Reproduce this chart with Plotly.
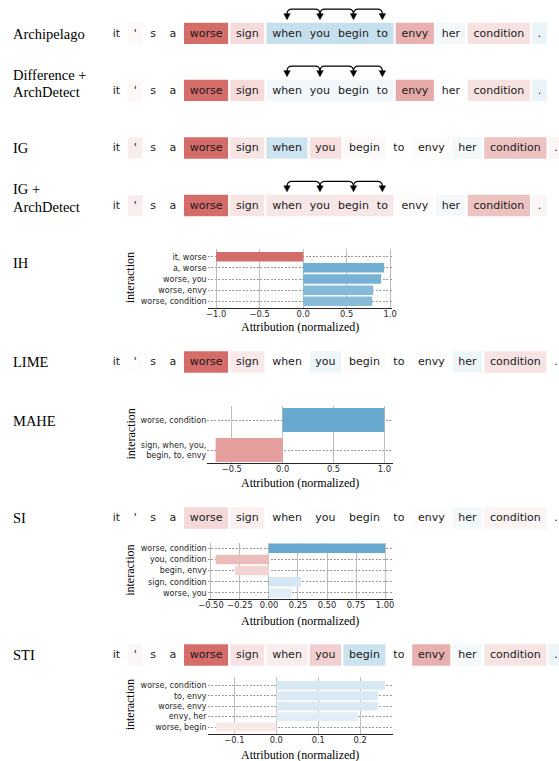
import plotly.graph_objects as go

W, H = 559, 761

# ---------------- data ----------------
TOKENS = ["it", "'", "s", "a", "worse", "sign", "when", "you", "begin", "to",
          "envy", "her", "condition", "."]
GROUP = [6, 7, 8, 9]  # "when you begin to" joined as one interaction

# per-token attribution (normalized: negative -> red, positive -> blue)
archipelago = [0, -0.05, 0, 0, -1.0, -0.24, 0.375, 0.375, 0.375, 0.375, -0.53, 0.08, -0.2, 0.14]
diff_archdetect = [0, -0.05, 0, 0, -1.0, -0.24, 0.09, 0.09, 0.09, 0.09, -0.58, 0.0, -0.2, 0.14]
ig = [0, -0.12, 0, 0, -1.0, -0.18, 0.33, -0.22, -0.05, 0.0, -0.03, 0.08, -0.41, -0.07]
ig_archdetect = [0, -0.12, 0, 0, -1.0, -0.18, -0.16, -0.16, -0.16, -0.16, -0.03, 0.08, -0.41, -0.07]
lime = [0, -0.02, 0, 0, -1.0, -0.15, 0.0, 0.11, -0.03, 0.0, 0.0, 0.12, -0.19, 0.0]
si_tokens = [0, 0, 0, 0, -0.26, -0.1, 0.0, 0.02, 0.0, 0.0, -0.02, 0.07, -0.08, 0.0]
sti_tokens = [0, -0.07, 0, 0, -1.0, -0.19, -0.13, -0.32, 0.34, 0.0, -0.53, 0.07, -0.18, 0.12]

# interaction attributions
ih_labels = ["it, worse", "a, worse", "worse, you", "worse, envy", "worse, condition"]
ih_values = [-1.0, 0.931, 0.897, 0.805, 0.794]
mahe_labels = ["worse, condition", "sign, when, you,<br>begin, to, envy"]
mahe_values = [1.0, -0.659]
si_labels = ["worse, condition", "you, condition", "begin, envy", "sign, condition", "worse, you"]
si_values = [1.0, -0.46, -0.293, 0.276, 0.2]
sti_labels = ["worse, condition", "to, envy", "worse, envy", "envy, her", "worse, begin"]
sti_values = [0.259, 0.242, 0.242, 0.194, -0.1435]

ih_ticks = [-1.0, -0.5, 0.0, 0.5, 1.0]
mahe_ticks = [-0.5, 0.0, 0.5, 1.0]
si_ticks = [-0.5, -0.25, 0.0, 0.25, 0.5, 0.75, 1.0]
sti_ticks = [-0.1, 0.0, 0.1, 0.2]

# ---------------- styling ----------------
SCALE = [[0.0, "rgb(212,108,106)"], [0.5, "rgb(255,255,255)"], [1.0, "rgb(103,169,207)"]]
SERIF = "Liberation Serif"
SANS = "DejaVu Sans"
INK = "#262626"

# DejaVu Sans advance widths (1/1000 em)
ADV = {"a": 613, "b": 635, "c": 550, "d": 635, "e": 615, "g": 635, "h": 634, "i": 278,
       "n": 634, "o": 612, "r": 411, "s": 521, "t": 392, "u": 634, "v": 592, "w": 818,
       "y": 592, "'": 275, ".": 318}
FS = 11
PAD, GAP, WORD_GAP = 5.7, 2.1, 8.0
X_START = 107.1
ROW_H = 21.3


def text_w(s):
    return sum(ADV[c] for c in s) / 1000 * FS


def layout_row(grouped):
    cells, centers = [], [0.0] * len(TOKENS)
    x, i = X_START, 0
    while i < len(TOKENS):
        if grouped and i == GROUP[0]:
            tx = x + PAD
            for j in GROUP:
                w = text_w(TOKENS[j])
                centers[j] = tx + w / 2
                tx += w + WORD_GAP
            x1 = tx - WORD_GAP + PAD
            cells.append((x, x1, i))
            x = x1 + GAP
            i = GROUP[-1] + 1
        else:
            w = text_w(TOKENS[i])
            cells.append((x, x + w + 2 * PAD, i))
            centers[i] = x + PAD + w / 2
            x += w + 2 * PAD + GAP
            i += 1
    return cells, centers


rows = [
    (archipelago, True, 33.3),
    (diff_archdetect, True, 90.3),
    (ig, False, 148.0),
    (ig_archdetect, True, 205.5),
    (lime, False, 362.0),
    (si_tokens, False, 518.0),
    (sti_tokens, False, 655.0),
]

fig = go.Figure()
shapes = []
annotations = []

for vals, grouped, yc in rows:
    cells, centers = layout_row(grouped)
    fig.add_trace(go.Bar(
        x=[(a + b) / 2 for a, b, _ in cells],
        y=[ROW_H] * len(cells),
        base=[yc - ROW_H / 2] * len(cells),
        width=[b - a for a, b, _ in cells],
        marker=dict(color=[vals[k] for _, _, k in cells], colorscale=SCALE,
                    cmin=-1, cmax=1, line=dict(width=0)),
        xaxis="x", yaxis="y", hoverinfo="skip", showlegend=False))
    fig.add_trace(go.Scatter(
        x=centers, y=[yc + 0.5] * len(TOKENS), mode="text", text=TOKENS,
        textposition="middle center",
        textfont=dict(family=SANS, size=FS, color="#1a1a1a"),
        xaxis="x", yaxis="y", hoverinfo="skip", showlegend=False))
    if grouped:
        top = yc - ROW_H / 2
        arc_y, tip, r, head = top - 13.5, top - 3.0, 5.0, 6.0
        gx = [centers[j] for j in GROUP]
        for xa, xb in zip(gx[:-1], gx[1:]):
            shapes.append(dict(
                type="path", xref="x", yref="y",
                path=(f"M{xa},{tip - head} L{xa},{arc_y + r} Q{xa},{arc_y} {xa + r},{arc_y} "
                      f"L{xb - r},{arc_y} Q{xb},{arc_y} {xb},{arc_y + r} L{xb},{tip - head}"),
                line=dict(color="black", width=1.2)))
        for xg in gx:
            shapes.append(dict(
                type="path", xref="x", yref="y",
                path=f"M{xg - 3.2},{tip - head} L{xg + 3.2},{tip - head} L{xg},{tip} Z",
                fillcolor="black", line=dict(color="black", width=0.5)))

# method names
for text, y in [("Archipelago", 34), ("Difference +", 75), ("ArchDetect", 92), ("IG", 148),
                ("IG +", 189), ("ArchDetect", 207), ("IH", 263), ("LIME", 362),
                ("MAHE", 421), ("SI", 518), ("STI", 655)]:
    annotations.append(dict(x=11, y=y, xref="x", yref="y", text=text, showarrow=False,
                            xanchor="left", yanchor="middle",
                            font=dict(family=SERIF, size=14.5, color="black")))

# interaction bar charts: (labels, values, ticks, xrange, px box, yrange, title y)
charts = [
    (ih_labels, ih_values, ih_ticks, [-1.097, 1.025], (207.7, 392.3, 249, 307.7), [4.57, -0.69], 326.5),
    (mahe_labels, mahe_values, mahe_ticks, [-0.741, 1.082], (207.3, 392.7, 406, 463), [1.43, -0.47], 482.5),
    (si_labels, si_values, si_ticks, [-0.528, 1.066], (207.7, 392.7, 542.7, 599), [4.54, -0.5], 620.5),
    (sti_labels, sti_values, sti_ticks, [-0.164, 0.278], (207.5, 392.9, 677, 733.7), [4.64, -0.8], 754.5),
]

layout_axes = {}
for n, (labels, values, ticks, xr, box, yr, title_y) in enumerate(charts, start=2):
    x0, x1, y0, y1 = box
    fig.add_trace(go.Bar(
        x=values, y=list(range(len(values))), orientation="h",
        width=0.8 if len(values) < 3 else 0.85,
        marker=dict(color=values, colorscale=SCALE, cmin=-1, cmax=1, line=dict(width=0)),
        xaxis=f"x{n}", yaxis=f"y{n}", hoverinfo="skip", showlegend=False))
    layout_axes[f"xaxis{n}"] = dict(
        domain=[x0 / W, x1 / W], anchor=f"y{n}", range=xr, tickvals=ticks,
        tickformat=".2f" if n == 4 else ".1f",
        showgrid=True, gridcolor="#bdbdbd", gridwidth=1.2, zeroline=False,
        showline=True, linecolor=INK, linewidth=1.2, ticks="", automargin=False,
        ticklabelstandoff=-2,
        tickfont=dict(family=SANS, size=8.3, color=INK), fixedrange=True)
    layout_axes[f"yaxis{n}"] = dict(
        domain=[1 - y1 / H, 1 - y0 / H], anchor=f"x{n}", range=yr,
        tickvals=list(range(len(labels))), ticktext=labels,
        showgrid=True, gridcolor="#9a9a9a", gridwidth=0.8, griddash="2px,1.5px",
        zeroline=False, showline=False, ticks="", automargin=False,
        tickfont=dict(family=SANS, size=8, color=INK), fixedrange=True)
    annotations.append(dict(x=(x0 + x1) / 2, y=title_y, xref="x", yref="y",
                            text="Attribution (normalized)", showarrow=False,
                            font=dict(family=SERIF, size=12, color="black")))
    annotations.append(dict(x=130, y=(y0 + y1) / 2, xref="x", yref="y",
                            text="interaction", textangle=-90, showarrow=False,
                            font=dict(family=SERIF, size=12, color="black")))

fig.update_layout(
    template="none",
    width=W, height=H, margin=dict(l=0, r=0, t=0, b=0, pad=0, autoexpand=False),
    paper_bgcolor="white", plot_bgcolor="rgba(0,0,0,0)",
    barmode="overlay", showlegend=False,
    xaxis=dict(domain=[0, 1], range=[0, W], visible=False, fixedrange=True, automargin=False),
    yaxis=dict(domain=[0, 1], range=[H, 0], visible=False, fixedrange=True, automargin=False),
    shapes=shapes, annotations=annotations,
    **layout_axes,
)

fig.write_html("out.html")
